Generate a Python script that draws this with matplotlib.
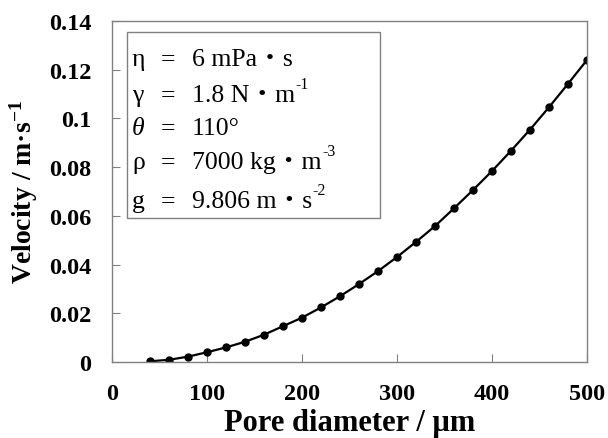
import matplotlib
matplotlib.use("Agg")
import matplotlib.pyplot as plt
from matplotlib.patches import Rectangle

plt.rcParams["font.family"] = ["Liberation Serif", "Noto Sans CJK JP", "DejaVu Sans"]
plt.rcParams["mathtext.fontset"] = "custom"
plt.rcParams["mathtext.rm"] = "Liberation Serif"
plt.rcParams["mathtext.it"] = "Liberation Serif:italic"
plt.rcParams["mathtext.bf"] = "Liberation Serif:bold"

# pore diameter (um) and velocity (m/s)
diameter = [40, 60, 80, 100, 120, 140, 160, 180, 200, 220, 240, 260,
            280, 300, 320, 340, 360, 380, 400, 420, 440, 460, 480, 500]
velocity = [0.0003, 0.0009, 0.0022, 0.0040, 0.0060, 0.0083, 0.0112, 0.0147,
            0.0182, 0.0224, 0.0270, 0.0320, 0.0373, 0.0431, 0.0493, 0.0558,
            0.0631, 0.0706, 0.0784, 0.0867, 0.0954, 0.1046, 0.1142, 0.1240]

symbols = ["η", "γ", "θ", "ρ", "g"]
values = ["6 mPa・s", "1.8 N・m", "110°", "7000 kg・m", "9.806 m・s"]
exponents = ["", "-1", "", "-3", "-2"]
baselines = [66, 102, 135, 169, 208]  # pixel rows from top of the figure

W, H = 608, 439
fig = plt.figure(figsize=(W / 100, H / 100), dpi=100)
ax = fig.add_axes([112 / W, 1 - 363 / H, 475 / W, 341 / H])

ax.plot(diameter, velocity, color="black", lw=1.6, marker="o", ms=5)

ax.set_xlim(0, 500)
ax.set_ylim(0, 0.14)
ax.set_xticks([0, 100, 200, 300, 400, 500])
ax.set_yticks([0, 0.02, 0.04, 0.06, 0.08, 0.1, 0.12, 0.14])
ax.set_yticklabels(["0", "0.02", "0.04", "0.06", "0.08", "0.1", "0.12", "0.14"])
ax.tick_params(direction="in", length=6, color="#808080", labelsize=17.5)
ax.tick_params(axis="x", pad=15)
ax.tick_params(axis="y", pad=15)
for lab in ax.get_xticklabels() + ax.get_yticklabels():
    lab.set_fontweight("bold")
for sp in ax.spines.values():
    sp.set_color("#808080")
    sp.set_linewidth(1.0)

ax.set_xlabel("Pore diameter / μm", fontsize=22, fontweight="bold", labelpad=3)
ax.set_ylabel("Velocity / m·s$^{\\mathbf{-1}}$", fontsize=20, fontweight="bold",
              labelpad=6)

# parameter box
box = Rectangle((127 / W, 1 - 219 / H), 253 / W, 186 / H, transform=fig.transFigure,
                fill=False, edgecolor="#808080", lw=1.0)
fig.patches.append(box)
fs = 18.5
mains = []
for sym, val, yb in zip(symbols, values, baselines):
    y = 1 - yb / H
    fig.text(132 / W, y, sym, fontsize=fs, va="baseline",
             style="italic" if sym == "θ" else "normal")
    fig.text(161 / W, y, "=", fontsize=fs, va="baseline")
    mains.append(fig.text(192 / W, y, val, fontsize=fs, va="baseline"))

fig.canvas.draw()
renderer = fig.canvas.get_renderer()
for t, exp, yb in zip(mains, exponents, baselines):
    if exp:
        x1 = t.get_window_extent(renderer).x1
        fig.text(x1 / W + 0.5 / W, 1 - (yb - 13) / H, exp, fontsize=11.5, va="baseline")

fig.savefig("out.png", dpi=100)
